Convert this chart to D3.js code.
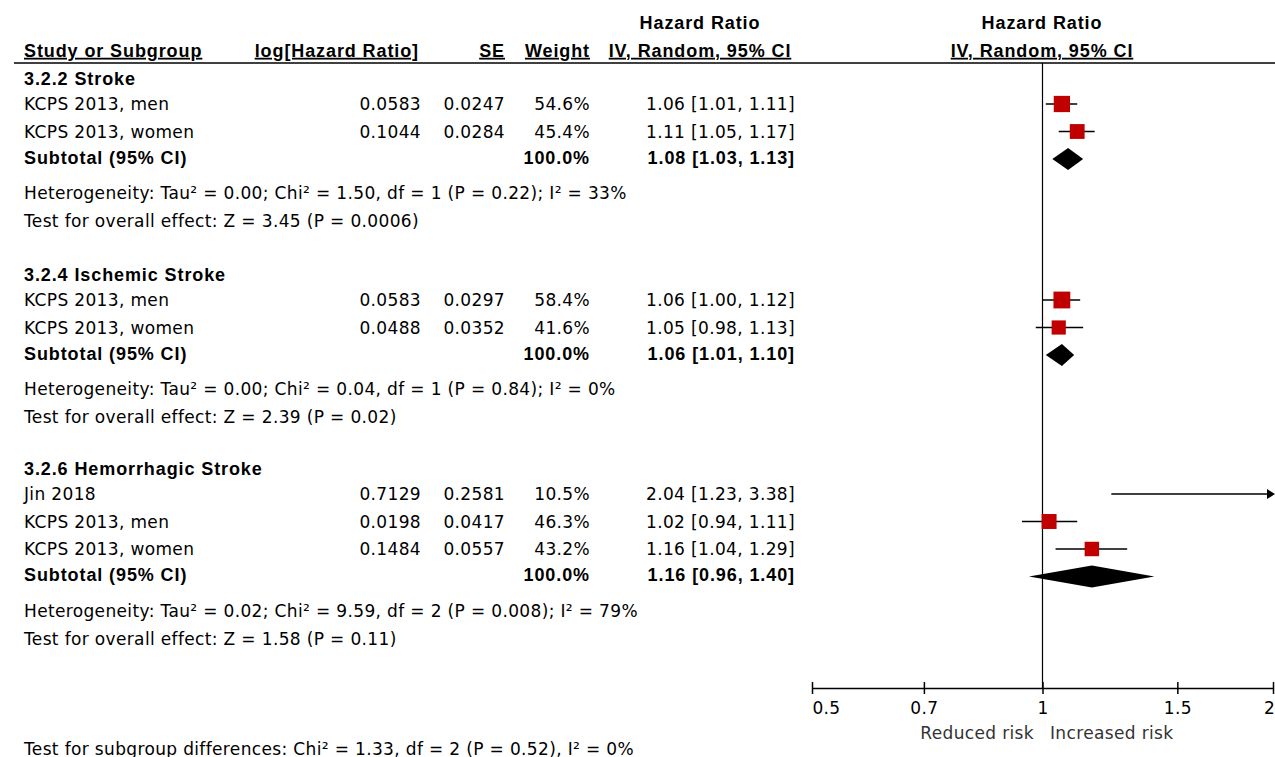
<!DOCTYPE html>
<html><head><meta charset="utf-8">
<script src="https://cdn.jsdelivr.net/npm/d3@7"></script>
<style>body{margin:0;background:#fff}text{font-family:"DejaVu Sans",sans-serif;font-size:17px;letter-spacing:0.35px;fill:#000}.b{font-family:"Liberation Sans",Arial,sans-serif;font-weight:bold;font-size:18px;letter-spacing:0.9px}</style>
</head><body><svg id="c" width="1275" height="757"></svg>
<script>
const groups=["3.2.2 Stroke","3.2.4 Ischemic Stroke","3.2.6 Hemorrhagic Stroke"];
const studies=[
 {g:0,name:"KCPS 2013, men",logHR:"0.0583",se:"0.0247",w:54.6,hr:1.06,lo:1.01,hi:1.11},
 {g:0,name:"KCPS 2013, women",logHR:"0.1044",se:"0.0284",w:45.4,hr:1.11,lo:1.05,hi:1.17},
 {g:1,name:"KCPS 2013, men",logHR:"0.0583",se:"0.0297",w:58.4,hr:1.06,lo:1.00,hi:1.12},
 {g:1,name:"KCPS 2013, women",logHR:"0.0488",se:"0.0352",w:41.6,hr:1.05,lo:0.98,hi:1.13},
 {g:2,name:"Jin 2018",logHR:"0.7129",se:"0.2581",w:10.5,hr:2.04,lo:1.23,hi:3.38},
 {g:2,name:"KCPS 2013, men",logHR:"0.0198",se:"0.0417",w:46.3,hr:1.02,lo:0.94,hi:1.11},
 {g:2,name:"KCPS 2013, women",logHR:"0.1484",se:"0.0557",w:43.2,hr:1.16,lo:1.04,hi:1.29}];
const subtotals=[{hr:1.08,lo:1.03,hi:1.13},{hr:1.06,lo:1.01,hi:1.10},{hr:1.16,lo:0.96,hi:1.40}];
const hetero=["Heterogeneity: Tau² = 0.00; Chi² = 1.50, df = 1 (P = 0.22); I² = 33%","Heterogeneity: Tau² = 0.00; Chi² = 0.04, df = 1 (P = 0.84); I² = 0%","Heterogeneity: Tau² = 0.02; Chi² = 9.59, df = 2 (P = 0.008); I² = 79%"];
const overall=["Test for overall effect: Z = 3.45 (P = 0.0006)","Test for overall effect: Z = 2.39 (P = 0.02)","Test for overall effect: Z = 1.58 (P = 0.11)"];
const ticks=[0.5,0.7,1,1.5,2];
const groupY=[80,276,470];

const svg=d3.select("#c");
const x=d3.scaleLog().domain([0.5,2]).range([812,1273]);
const f=v=>v.toFixed(2);
function t(xp,y,s,anchor,cls){return svg.append("text").attr("x",xp).attr("y",y).attr("text-anchor",anchor||"start").attr("class",cls||"").attr("dominant-baseline","middle").text(s);}
t(24,52,"Study or Subgroup","start","b").attr("text-decoration","underline");
t(419,52,"log[Hazard Ratio]","end","b").attr("text-decoration","underline");
t(505,52,"SE","end","b").attr("text-decoration","underline");
t(590,52,"Weight","end","b").attr("text-decoration","underline");
t(700,24,"Hazard Ratio","middle","b");
t(700,52,"IV, Random, 95% CI","middle","b").attr("text-decoration","underline");
t(1042,24,"Hazard Ratio","middle","b");
t(1042,52,"IV, Random, 95% CI","middle","b").attr("text-decoration","underline");
svg.append("line").attr("x1",14).attr("x2",1275).attr("y1",63).attr("y2",63).attr("stroke","#000").attr("stroke-width",1.5);
svg.append("line").attr("x1",x(1)).attr("x2",x(1)).attr("y1",63).attr("y2",688).attr("stroke","#000").attr("stroke-width",1.2);
groups.forEach((g,gi)=>{
 const y0=groupY[gi];
 t(24,y0,g,"start","b");
 const rows=studies.filter(s=>s.g===gi);
 rows.forEach((s,i)=>{
  const y=y0+25+i*27.5;
  t(24,y,s.name);t(421,y,s.logHR,"end");t(505,y,s.se,"end");t(590,y,s.w.toFixed(1)+"%","end");
  t(795,y,`${f(s.hr)} [${f(s.lo)}, ${f(s.hi)}]`,"end");
  const cy=y-1;
  const hiX=Math.min(x(s.hi),1268);
  svg.append("line").attr("x1",x(s.lo)).attr("x2",hiX).attr("y1",cy).attr("y2",cy).attr("stroke","#000").attr("stroke-width",1.5);
  if(x(s.hi)>1273){svg.append("path").attr("d",`M1275,${cy} L1267,${cy-5} L1267,${cy+5}Z`).attr("fill","#000");}
  if(s.hr<=2){const sz=Math.sqrt(s.w)*2.2;svg.append("rect").attr("x",x(s.hr)-sz/2).attr("y",cy-sz/2).attr("width",sz).attr("height",sz).attr("fill","#c00000");}
 });
 const ys=y0+25+rows.length*27.5-1;
 t(24,ys,"Subtotal (95% CI)","start","b");t(590,ys,"100.0%","end","b");
 const st=subtotals[gi];
 t(795,ys,`${f(st.hr)} [${f(st.lo)}, ${f(st.hi)}]`,"end","b");
 svg.append("path").attr("d",`M${x(st.lo)},${ys} L${x(st.hr)},${ys-11} L${x(st.hi)},${ys} L${x(st.hr)},${ys+11}Z`).attr("fill","#000");
 t(24,ys+35,hetero[gi]);t(24,ys+63,overall[gi]);
});
const ax=svg.append("g").attr("transform","translate(0,688)").call(d3.axisBottom(x).tickValues(ticks).tickFormat(d3.format("")).tickSizeInner(-6).tickSizeOuter(0).tickPadding(14));
ax.select(".domain").attr("stroke-width",1.5);
ax.selectAll(".tick line").attr("y1",6).attr("y2",-6).attr("stroke-width",1.5);
ax.selectAll("text").style("font-size","17px").style("font-family","DejaVu Sans");
ax.selectAll(".tick text").filter(d=>d===0.5).attr("dx",14);
ax.selectAll(".tick text").filter(d=>d===2).attr("dx",-4);
t(1034,734,"Reduced risk","end").style("fill","#333");
t(1050,734,"Increased risk","start").style("fill","#333");
t(24,750,"Test for subgroup differences: Chi² = 1.33, df = 2 (P = 0.52), I² = 0%");
</script></body></html>
